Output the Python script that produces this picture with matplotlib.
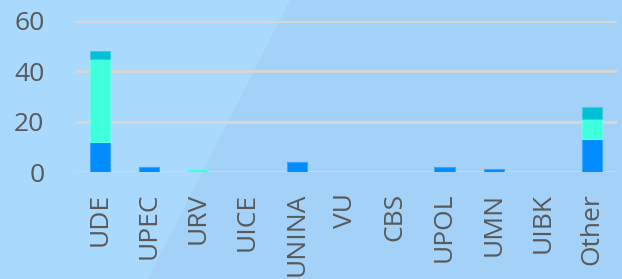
import numpy as np
import matplotlib
matplotlib.use("Agg")
import matplotlib.pyplot as plt
from matplotlib.patches import Polygon

# data
categories = ["UDE", "UPEC", "URV", "UICE", "UNINA", "VU", "CBS", "UPOL", "UMN", "UIBK", "Other"]
series_a = [12, 2, 0, 0, 4, 0, 0, 2, 1, 0, 13]
series_b = [33, 0, 1, 0, 0, 0, 0, 0, 0, 0, 8]
series_c = [3, 0, 0, 0, 0, 0, 0, 0, 0, 0, 5]
y_ticks = [0, 20, 40, 60]

colors = ["#008cff", "#40ffdd", "#00c0d6"]
edges = ["#3aa2ff", "#5effe4", "#3acde0"]

fig = plt.figure(figsize=(6.22, 2.79), dpi=100)
fig.patch.set_facecolor("#a3d1f7")

# background axes with the lighter diagonal band on the left
bg = fig.add_axes([0, 0, 1, 1], zorder=-1)
bg.set_xlim(0, 1)
bg.set_ylim(0, 1)
bg.axis("off")
bg.add_patch(Polygon([(0, 0), (148 / 622, 0), (290 / 622, 1), (0, 1)],
                     closed=True, facecolor="#aad9fe", edgecolor="none"))

ax = fig.add_axes([75 / 622, 1 - 172 / 279, 542 / 622, 151 / 279])
ax.set_facecolor("none")

x = np.arange(len(categories))
a = np.array(series_a)
b = np.array(series_b)
c = np.array(series_c)
w = 0.41
bottom = np.zeros(len(categories))
for vals, col, ec in zip([a, b, c], colors, edges):
    lw = np.where(vals > 0, 0.8, 0)
    ax.bar(x, vals, w, bottom=bottom, color=col, edgecolor=ec, linewidth=lw, zorder=3)
    bottom = bottom + vals

ax.set_xlim(-0.5, len(categories) - 0.5)
ax.set_ylim(0, 60)
ax.set_yticks(y_ticks)
ax.yaxis.grid(True, color="#d6d6d6", linewidth=2, zorder=1)
ax.set_axisbelow(True)
for s in ax.spines.values():
    s.set_visible(False)

ax.set_xticks(x)
ax.set_xticklabels(categories, rotation=90, va="top", ha="center")
ax.tick_params(axis="x", length=0, pad=15, labelsize=19, labelcolor="#595959")
ax.tick_params(axis="y", length=0, pad=22, labelsize=19, labelcolor="#595959")
for lab in ax.get_xticklabels() + ax.get_yticklabels():
    lab.set_fontfamily("Open Sans")

fig.savefig("out.png", dpi=100, facecolor=fig.get_facecolor())
